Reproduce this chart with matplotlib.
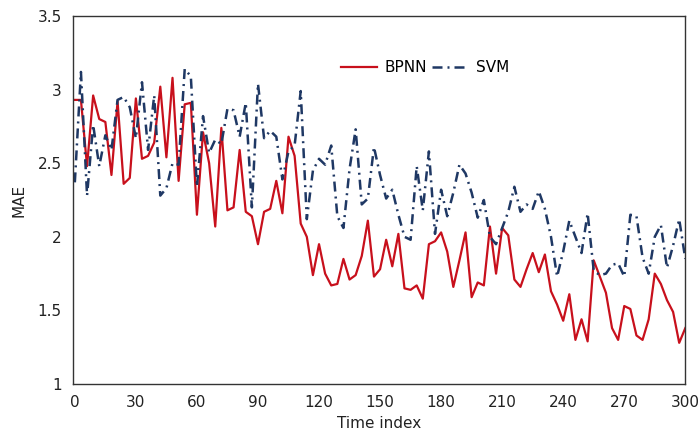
import numpy as np
import matplotlib
matplotlib.use("Agg")
import matplotlib.pyplot as plt

# time index, one sample every 3 steps
time_index = np.arange(0, 301, 3)

bpnn = [2.93, 2.93, 2.48, 2.96, 2.80, 2.78, 2.42, 2.92, 2.36, 2.40,
        2.94, 2.53, 2.55, 2.64, 3.02, 2.54, 3.08, 2.38, 2.90, 2.91,
        2.15, 2.71, 2.50, 2.07, 2.74, 2.18, 2.20, 2.59, 2.17, 2.14,
        1.95, 2.17, 2.19, 2.38, 2.16, 2.68, 2.55, 2.09, 2.00, 1.74,
        1.95, 1.75, 1.67, 1.68, 1.85, 1.71, 1.74, 1.87, 2.11, 1.73,
        1.78, 1.98, 1.80, 2.02, 1.65, 1.64, 1.67, 1.58, 1.95, 1.97,
        2.03, 1.90, 1.66, 1.84, 2.03, 1.59, 1.69, 1.67, 2.07, 1.75,
        2.06, 2.01, 1.71, 1.66, 1.78, 1.89, 1.76, 1.88, 1.63, 1.54,
        1.43, 1.61, 1.30, 1.44, 1.29, 1.84, 1.73, 1.62, 1.38, 1.30,
        1.53, 1.51, 1.33, 1.30, 1.44, 1.75, 1.68, 1.57, 1.49, 1.28,
        1.38]

svm = [2.37, 3.12, 2.28, 2.76, 2.48, 2.69, 2.59, 2.93, 2.95, 2.88,
       2.67, 3.05, 2.59, 2.96, 2.28, 2.33, 2.50, 2.49, 3.14, 3.09,
       2.34, 2.82, 2.57, 2.66, 2.63, 2.87, 2.86, 2.68, 2.91, 2.20,
       3.04, 2.67, 2.72, 2.68, 2.39, 2.58, 2.62, 2.99, 2.12, 2.45,
       2.53, 2.49, 2.62, 2.14, 2.06, 2.46, 2.73, 2.22, 2.26, 2.61,
       2.42, 2.26, 2.32, 2.15, 2.00, 1.98, 2.48, 2.18, 2.58, 2.02,
       2.32, 2.14, 2.30, 2.49, 2.43, 2.30, 2.13, 2.25, 2.00, 1.95,
       2.06, 2.17, 2.34, 2.17, 2.22, 2.19, 2.31, 2.19, 2.00, 1.73,
       1.90, 2.11, 2.00, 1.89, 2.16, 1.77, 1.74, 1.75, 1.81, 1.82,
       1.73, 2.15, 2.14, 1.86, 1.75, 2.00, 2.08, 1.79, 1.94, 2.12,
       1.85]

xticks = np.arange(0, 301, 30)
yticks = [1, 1.5, 2, 2.5, 3, 3.5]

fig = plt.figure(figsize=(7, 4.44), dpi=100)
ax = fig.add_axes([0.104, 0.135, 0.875, 0.829])

ax.plot(time_index, bpnn, color='#c8101c', linewidth=1.6, label='BPNN')
ax.plot(time_index, svm, color='#1f3864', linewidth=1.8, dashes=(4, 2, 0.8, 2),
        label='SVM')

ax.set_xlim(-1, 300)
ax.set_ylim(1, 3.5)
ax.set_xticks(xticks)
ax.set_yticks(yticks)
ax.set_yticklabels(['1', '1.5', '2', '2.5', '3', '3.5'])
ax.tick_params(length=0, labelsize=11, colors='#222222', pad=8)
ax.set_xlabel('Time index', fontsize=11, color='#222222', labelpad=4)
ax.set_ylabel('MAE', fontsize=11, color='#222222', labelpad=8)

for s in ax.spines.values():
    s.set_color('#333333')
    s.set_linewidth(1.0)

ax.legend(loc='center', bbox_to_anchor=(0.575, 0.86), ncol=2, frameon=False,
          fontsize=11, handlelength=2.4, columnspacing=0.3, handletextpad=0.5)

fig.savefig('out.png', dpi=100)
